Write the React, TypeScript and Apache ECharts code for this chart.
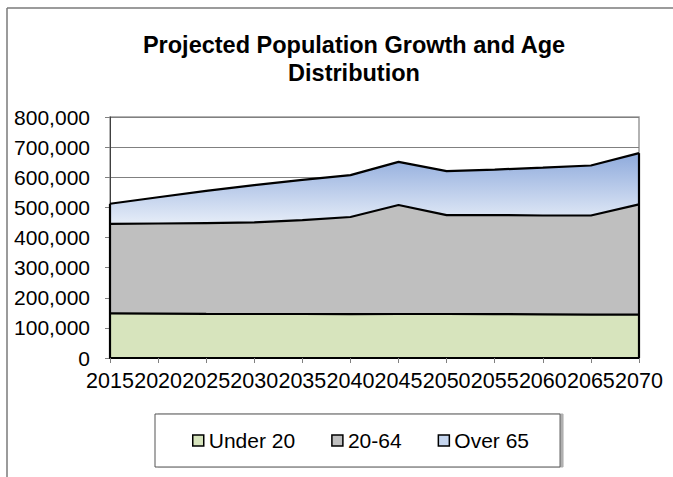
import React, { useEffect, useRef } from "react";
import * as echarts from "echarts";

const years = ["2015", "2020", "2025", "2030", "2035", "2040", "2045", "2050", "2055", "2060", "2065", "2070"];
const under20 = [148000, 147500, 146500, 146000, 146000, 145500, 146000, 146000, 145500, 145000, 144000, 144000];
const age20to64 = [297000, 299000, 301500, 304000, 312000, 322500, 362000, 328500, 329000, 328000, 329000, 366000];
const over65 = [67000, 87000, 107000, 124000, 133000, 139000, 143000, 146000, 151000, 159000, 166000, 170000];
const seriesNames = ["Under 20", "20-64", "Over 65"];
const yTicks = { min: 0, max: 800000, interval: 100000 };

const FONT = "'Liberation Sans', Arial, sans-serif";

export default function App() {
  const ref = useRef<HTMLDivElement>(null);
  useEffect(() => {
    if (!ref.current) return;
    const chart = echarts.init(ref.current, null, { renderer: "svg" });
    const totals = years.map((_, i) => under20[i] + age20to64[i] + over65[i]);
    const last = years.length - 1;
    const fills = ["#d7e4bd", "#bfbfbf", "#c6d6ef"];
    const values = [under20, age20to64, over65];
    const series = values.map((vals, k) => ({
      name: seriesNames[k],
      type: "line",
      stack: "total",
      data: vals,
      showSymbol: false,
      symbol: "none",
      lineStyle: { color: "#000", width: 2.2 },
      itemStyle: { color: fills[k] },
      areaStyle:
        k === 2
          ? {
              opacity: 1,
              color: {
                type: "linear",
                x: 0,
                y: 0,
                x2: 0,
                y2: 1,
                colorStops: [
                  { offset: 0, color: "#8eaadc" },
                  { offset: 1, color: "#e6edf8" },
                ],
              },
            }
          : { opacity: 1, color: fills[k] },
      z: 2,
      ...(k === 2
        ? {
            markLine: {
              silent: true,
              symbol: "none",
              label: { show: false },
              lineStyle: { color: "#000", width: 2.2, type: "solid" },
              data: [
                [{ coord: [years[0], 0] }, { coord: [years[0], totals[0]] }],
                [{ coord: [years[last], 0] }, { coord: [years[last], totals[last]] }],
              ],
            },
          }
        : {}),
    }));
    chart.setOption({
      animation: false,
      textStyle: { fontFamily: FONT },
      title: {
        text: "Projected Population Growth and Age\nDistribution",
        left: 354,
        top: 31,
        textAlign: "center",
        padding: 0,
        textStyle: { fontFamily: FONT, fontSize: 23.5, fontWeight: "bold", color: "#000", lineHeight: 28 },
      },
      grid: {
        left: 110,
        right: 34,
        top: 117,
        bottom: 119,
        show: true,
        borderColor: "#9a9a9a",
        borderWidth: 1.5,
        backgroundColor: "transparent",
      },
      legend: {
        left: 155,
        top: 414,
        orient: "horizontal",
        icon: "rect",
        itemWidth: 11,
        itemHeight: 11,
        itemGap: 36,
        padding: [16, 31, 16, 37],
        backgroundColor: "#fff",
        borderColor: "#555",
        borderWidth: 1,
        shadowColor: "#b0b0b0",
        shadowOffsetX: 3,
        shadowOffsetY: 0,
        shadowBlur: 0,
        textStyle: { fontFamily: FONT, fontSize: 21, color: "#000" },
        data: seriesNames.map((n, k) => ({
          name: n,
          itemStyle: { color: fills[k], borderColor: "#000", borderWidth: 1.5 },
        })),
      },
      xAxis: {
        type: "category",
        data: years,
        boundaryGap: false,
        z: 5,
        axisLine: { show: true, lineStyle: { color: "#000", width: 2.2 } },
        axisTick: { show: true, length: 5, lineStyle: { color: "#808080" } },
        axisLabel: { interval: 0, fontFamily: FONT, fontSize: 21.5, color: "#000", margin: 12 },
        splitLine: { show: false },
      },
      yAxis: {
        type: "value",
        min: yTicks.min,
        max: yTicks.max,
        interval: yTicks.interval,
        axisLine: { show: true, lineStyle: { color: "#404040", width: 1 } },
        axisTick: { show: true, length: 5, lineStyle: { color: "#808080" } },
        axisLabel: {
          fontFamily: FONT,
          fontSize: 21,
          color: "#000",
          margin: 20,
          formatter: (v: number) => v.toLocaleString("en-US"),
        },
        splitLine: { show: true, lineStyle: { color: "#808080", width: 1 } },
      },
      graphic: [
        { type: "line", shape: { x1: 7, y1: 8, x2: 673, y2: 8 }, style: { stroke: "#7a7a7a", lineWidth: 1.5 } },
        { type: "line", shape: { x1: 7, y1: 8, x2: 7, y2: 477 }, style: { stroke: "#7a7a7a", lineWidth: 1.5 } },
      ],
      series,
    });
    return () => chart.dispose();
  }, []);
  return (
    <div
      ref={ref}
      style={{ position: "fixed", left: 0, top: 0, width: 673, height: 477, background: "#fff" }}
    />
  );
}
